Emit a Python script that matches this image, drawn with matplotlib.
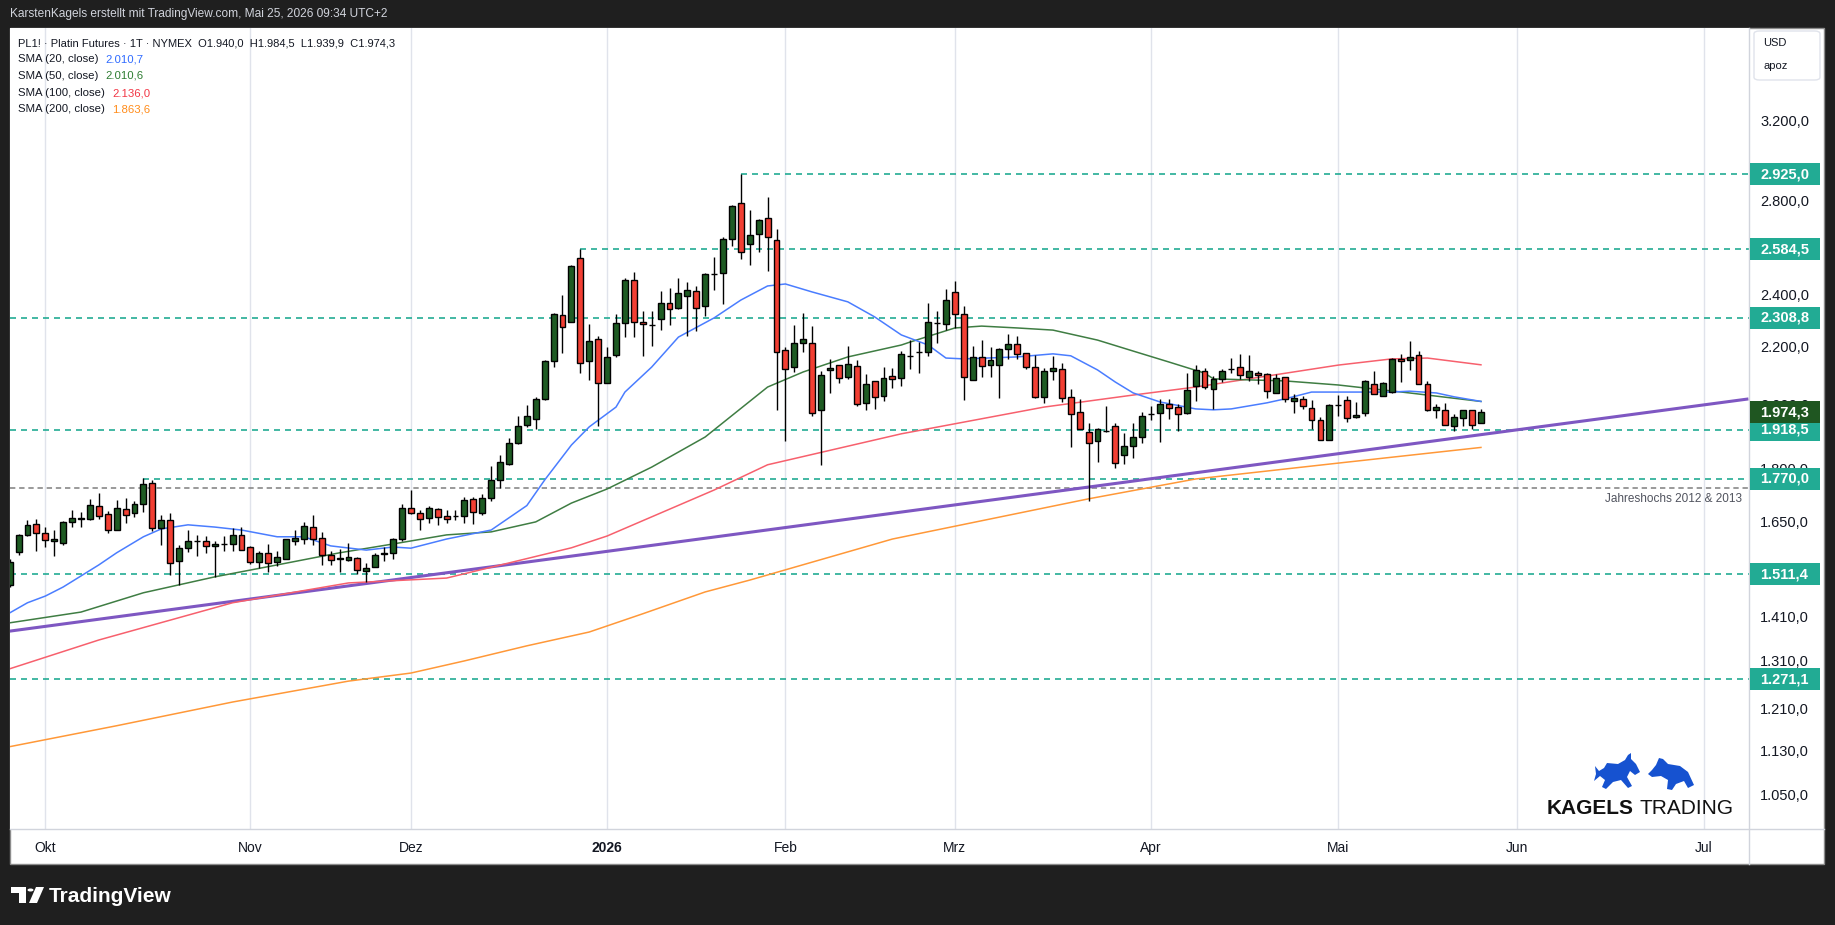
import numpy as np
import matplotlib
matplotlib.use("Agg")
import matplotlib.pyplot as plt
from matplotlib.patches import Rectangle, Polygon, FancyBboxPatch, Circle
from matplotlib.lines import Line2D
from matplotlib.ticker import NullLocator

plt.rcParams['font.family'] = ['Liberation Sans', 'DejaVu Sans']

W, H = 1835, 925

# daily candles (Platin futures, Okt 2025 - Mai 2026)
opens = [1485, 1568, 1612, 1642, 1618, 1597, 1592, 1648, 1656, 1656,
         1692, 1670, 1627, 1684, 1673, 1698, 1758, 1632, 1653, 1544,
         1579, 1598, 1597, 1583, 1588, 1590, 1613, 1582, 1543, 1566,
         1543, 1550, 1598, 1603, 1634, 1604, 1561, 1552, 1548, 1553,
         1520, 1529, 1562, 1566, 1601, 1686, 1673, 1659, 1683, 1664,
         1664, 1663, 1711, 1673, 1713, 1766, 1812, 1877, 1933, 1954,
         2018, 2148, 2318, 2294, 2547, 2148, 2228, 2072, 2172, 2288,
         2456, 2291, 2282, 2303, 2365, 2346, 2392, 2413, 2353, 2482,
         2485, 2628, 2792, 2607, 2650, 2721, 2625, 2189, 2128, 2214,
         2214, 1984, 2118, 2135, 2092, 2132, 2005, 2079, 2029, 2096,
         2090, 2169, 2181, 2181, 2289, 2284, 2408, 2322, 2083, 2165,
         2137, 2137, 2192, 2210, 2177, 2130, 2025, 2114, 2120, 2025,
         1975, 1911, 1884, 1915, 1930, 1840, 1868, 1896, 1969, 1972,
         2002, 1993, 1972, 2061, 2116, 2051, 2086, 2123, 2128, 2093,
         2107, 2103, 2038, 2095, 2012, 2018, 1988, 1949, 1886, 2000,
         2015, 1960, 1971, 2071, 2030, 2041, 2156, 2152, 2170, 2071,
         1982, 1982, 1932, 1958, 1982, 1940.0]
highs = [1550, 1616, 1654, 1657, 1634, 1627, 1651, 1682, 1676, 1712,
         1729, 1677, 1710, 1715, 1707, 1773, 1765, 1668, 1671, 1585,
         1627, 1614, 1611, 1598, 1610, 1632, 1633, 1583, 1570, 1590,
         1570, 1603, 1626, 1647, 1667, 1621, 1570, 1575, 1592, 1554,
         1539, 1565, 1582, 1604, 1698, 1738, 1682, 1691, 1686, 1680,
         1681, 1716, 1716, 1726, 1808, 1841, 1893, 1963, 1998, 2026,
         2152, 2327, 2398, 2519, 2585, 2284, 2239, 2198, 2322, 2464,
         2491, 2336, 2336, 2413, 2424, 2464, 2450, 2434, 2487, 2554,
         2637, 2779, 2927, 2758, 2718, 2818, 2674, 2201, 2281, 2327,
         2279, 2114, 2155, 2135, 2204, 2153, 2104, 2079, 2130, 2126,
         2186, 2224, 2218, 2365, 2335, 2420, 2454, 2355, 2204, 2224,
         2201, 2195, 2248, 2240, 2177, 2170, 2124, 2166, 2144, 2052,
         2018, 1940, 1924, 1994, 1940, 1908, 1940, 1976, 1994, 2018,
         2018, 2002, 2107, 2137, 2124, 2097, 2121, 2159, 2175, 2171,
         2113, 2109, 2104, 2095, 2036, 2029, 2015, 1960, 2003, 2031,
         2028, 2009, 2083, 2115, 2075, 2160, 2173, 2222, 2184, 2080,
         2001, 2004, 1968, 1982, 1982, 1984.5]
lows = [1480, 1561, 1610, 1570, 1581, 1557, 1586, 1634, 1633, 1653,
        1657, 1618, 1627, 1645, 1661, 1674, 1623, 1585, 1509, 1485,
        1568, 1559, 1565, 1505, 1570, 1570, 1574, 1538, 1527, 1516,
        1533, 1550, 1586, 1589, 1586, 1534, 1534, 1517, 1544, 1512,
        1492, 1529, 1544, 1550, 1597, 1669, 1626, 1645, 1639, 1646,
        1653, 1646, 1643, 1667, 1705, 1744, 1809, 1874, 1926, 1922,
        2015, 2128, 2179, 2294, 2109, 2083, 1932, 2072, 2165, 2238,
        2238, 2168, 2204, 2263, 2282, 2342, 2241, 2257, 2316, 2417,
        2361, 2601, 2545, 2517, 2574, 2494, 1984, 1884, 2112, 2181,
        1964, 1809, 2038, 2072, 2087, 1995, 1984, 1987, 2013, 2057,
        2063, 2122, 2109, 2168, 2216, 2263, 2269, 2014, 2083, 2093,
        2093, 2021, 2158, 2158, 2120, 2021, 2004, 2084, 2008, 1864,
        1921, 1707, 1818, 1911, 1802, 1813, 1831, 1877, 1951, 1879,
        1953, 1914, 1969, 2012, 2054, 1986, 2077, 2109, 2088, 2079,
        2068, 2021, 2038, 2008, 1971, 1987, 1921, 1886, 1886, 1964,
        1945, 1957, 1964, 2034, 2030, 2038, 2075, 2118, 2071, 1978,
        1957, 1934, 1915, 1930, 1922, 1939.9]
closes = [1543, 1613, 1640, 1618, 1600, 1601, 1649, 1659, 1659, 1695,
          1664, 1625, 1686, 1667, 1698, 1755, 1632, 1654, 1540, 1579,
          1597, 1598, 1583, 1590, 1589, 1613, 1574, 1542, 1566, 1540,
          1556, 1601, 1604, 1638, 1601, 1560, 1548, 1551, 1554, 1521,
          1526, 1560, 1566, 1601, 1686, 1673, 1656, 1686, 1662, 1656,
          1664, 1708, 1674, 1714, 1766, 1819, 1877, 1932, 1962, 2018,
          2149, 2322, 2273, 2515, 2142, 2221, 2072, 2163, 2288, 2456,
          2291, 2284, 2282, 2365, 2342, 2405, 2417, 2346, 2482, 2482,
          2628, 2775, 2575, 2645, 2713, 2637, 2181, 2122, 2214, 2230,
          1971, 2100, 2124, 2089, 2138, 2001, 2068, 2024, 2089, 2085,
          2174, 2169, 2181, 2292, 2289, 2377, 2322, 2093, 2165, 2131,
          2152, 2192, 2210, 2175, 2130, 2025, 2114, 2125, 2022, 1969,
          1921, 1878, 1921, 1915, 1816, 1869, 1896, 1963, 1969, 2002,
          1989, 1969, 2048, 2118, 2058, 2088, 2116, 2123, 2100, 2116,
          2100, 2047, 2089, 2018, 2023, 1994, 1949, 1886, 1998, 2000,
          1955, 1967, 2078, 2034, 2072, 2156, 2149, 2163, 2071, 1984,
          1991, 1934, 1960, 1982, 1934, 1974.3]

# moving averages (bar number, value)
sma20_bars = [1, 3, 5, 7, 11, 13, 16, 18, 21, 24, 27, 31, 34, 37, 41, 44, 46, 50, 55,
              59, 61, 64, 66, 69, 70, 73, 76, 80, 83, 86, 88, 91, 95, 98, 101, 104,
              106, 108, 114, 118, 120, 123, 125, 127, 130, 134, 136, 138, 142, 144,
              147, 150, 153, 156, 158, 161, 163, 166]
sma20_vals = [1418, 1442, 1458, 1480, 1535, 1566, 1608, 1629, 1640, 1634, 1626, 1608, 1608,
              1584, 1573, 1581, 1578, 1602, 1626, 1693, 1766, 1871, 1928, 1992, 2042, 2128,
              2236, 2308, 2377, 2433, 2441, 2409, 2370, 2312, 2244, 2207, 2160, 2157, 2164,
              2175, 2168, 2118, 2076, 2039, 2009, 1986, 1983, 1986, 2006, 2019, 2042, 2042,
              2042, 2042, 2045, 2039, 2026, 2010.7]
sma50_bars = [1, 9, 16, 24, 31, 38, 44, 50, 55, 60, 64, 68, 73, 79, 86, 90, 95, 101, 102,
              107, 110, 114, 118, 123, 127, 131, 135, 136, 144, 150, 155, 158, 166]
sma50_vals = [1395, 1420, 1466, 1505, 1535, 1566, 1589, 1613, 1621, 1648, 1700, 1740, 1804,
              1896, 2059, 2111, 2164, 2207, 2218, 2270, 2277, 2270, 2262, 2225, 2185, 2146,
              2107, 2087, 2080, 2066, 2049, 2039, 2010.6]
sma100_bars = [1, 11, 26, 39, 50, 64, 68, 80, 86, 101, 117, 127, 134, 150, 156, 160, 166]
sma100_vals = [1293, 1356, 1442, 1490, 1502, 1579, 1610, 1737, 1811, 1906, 1992, 2032, 2059,
               2135, 2157, 2160, 2136.0]
sma200_bars = [1, 13, 26, 39, 46, 52, 59, 66, 72, 79, 84, 100, 122, 134, 150, 166]
sma200_vals = [1137, 1177, 1224, 1267, 1284, 1310, 1343, 1374, 1416, 1468, 1497, 1602, 1712,
               1769, 1816, 1863.6]

trend_bars = [1, 196]
trend_vals = [1376, 2019]

levels = [2925.0, 2584.5, 2308.8, 1918.5, 1770.0, 1511.4, 1271.1]
level_from = [83, 65, 1, 1, 16, 1, 1]
year_high = 1742

month_bars = [5, 28, 46, 68, 88, 107, 129, 150, 170, 191]
month_labels = ["Okt", "Nov", "Dez", "2026", "Feb", "Mrz", "Apr", "Mai", "Jun", "Jul"]
price_ticks = [3200, 2800, 2400, 2200, 2000, 1800, 1650, 1520, 1410, 1310, 1210, 1130, 1050]


def de(v):
    return f"{v:,.1f}".replace(",", "X").replace(".", ",").replace("X", ".")


def fx(px):
    return px / W


def fy(py):
    return 1 - py / H


fig = plt.figure(figsize=(W / 100, H / 100), dpi=100, facecolor="#1f1f1f")

# white chart panel
fig.add_artist(Rectangle((fx(10), fy(864)), fx(1814), 836 / H, transform=fig.transFigure,
                         facecolor="white", edgecolor="#8c8c8c", lw=1, zorder=0))

ax = fig.add_axes([fx(10), fy(829), fx(1739), 801 / H])
ax.set_facecolor("white")
ax.set_yscale("log")
XL = (1.04, 196.06)
ax.set_xlim(*XL)
ax.set_ylim(992.5, 3725)
for s in ax.spines.values():
    s.set_visible(False)

bars = np.arange(1, len(opens) + 1)
o = np.array(opens, float)
c = np.array(closes, float)
hi = np.array(highs, float)
lo = np.array(lows, float)
up = c >= o

# grid (months only), labels drawn on a common baseline
ax.set_xticks(month_bars)
ax.set_xticklabels([])
ax.grid(axis="x", color="#e0e3eb", lw=1, zorder=0)
ax.tick_params(axis="x", length=0)
for b, lab in zip(month_bars, month_labels):
    xpix = ax.transData.transform((b, 2000))[0]
    fig.text(xpix / W, fy(852), lab, fontsize=10, color="#131722", ha="center", va="baseline",
             fontweight="bold" if lab == "2026" else "normal")

ax.yaxis.tick_right()
ax.set_yticks(price_ticks)
ax.set_yticklabels([de(v) for v in price_ticks])
ax.yaxis.set_minor_locator(NullLocator())
ax.tick_params(axis="y", length=0, pad=8, labelsize=10.5, labelcolor="#131722")

# horizontal levels
for lv, start in zip(levels, level_from):
    ax.hlines(lv, max(start, XL[0]), XL[1], colors="#22ab94", lw=1.2,
              linestyles=(0, (3.6, 3.0)), zorder=2)
ax.hlines(year_high, XL[0], XL[1], colors="#7f7f7f", lw=1.1, linestyles=(0, (3.5, 2.5)), zorder=2)

# trend line and SMAs
ax.plot(trend_bars, trend_vals, color="#7e57c2", lw=2.2, zorder=2, solid_capstyle="butt")
ax.plot(sma200_bars, sma200_vals, color="#ff9838", lw=1.1, zorder=2)
ax.plot(sma100_bars, sma100_vals, color="#f7606d", lw=1.1, zorder=2)
ax.plot(sma50_bars, sma50_vals, color="#3f7d43", lw=1.1, zorder=2)
ax.plot(sma20_bars, sma20_vals, color="#4a7dff", lw=1.1, zorder=2)

# candles
ax.vlines(bars, lo, hi, color="black", lw=1.0, zorder=3)
ax.bar(bars, np.abs(c - o), bottom=np.minimum(o, c), width=0.66,
       color=np.where(up, "#1e5b23", "#f23f33"), edgecolor="black", linewidth=1.0, zorder=4)

# separators of the axis strips
fig.add_artist(Line2D([fx(1749), fx(1749)], [fy(864), fy(28)], transform=fig.transFigure,
                      color="#d1d4dc", lw=1, zorder=6))
fig.add_artist(Line2D([fx(10), fx(1824)], [fy(829), fy(829)], transform=fig.transFigure,
                      color="#d1d4dc", lw=1, zorder=6))


# price labels on the axis
def axis_label(price, text, face):
    ypix = ax.transData.transform((1, price))[1]
    fig.add_artist(Rectangle((fx(1750), (ypix - 11) / H), fx(70), 22 / H, transform=fig.transFigure,
                             facecolor=face, edgecolor="none", zorder=7))
    fig.text(fx(1760), ypix / H, text, color="white", fontsize=10.5, fontweight="bold",
             ha="left", va="center", zorder=8)


for lv in levels:
    axis_label(lv, de(lv), "#22ab94")
axis_label(closes[-1], de(closes[-1]), "#1f5621")

# currency box
fig.add_artist(FancyBboxPatch((fx(1754), fy(80)), fx(66), 49 / H, boxstyle="round,pad=0,rounding_size=0.003",
                              transform=fig.transFigure, facecolor="white", edgecolor="#e0e3eb", lw=1, zorder=7))
fig.text(fx(1763), fy(43), "USD", fontsize=8, color="#131722", va="center", zorder=8)
fig.text(fx(1763), fy(66), "apoz", fontsize=8, color="#131722", va="center", zorder=8)

fig.text(fx(1742), fy(499), "Jahreshochs 2012 & 2013", fontsize=8.5, color="#50535e",
         ha="right", va="center")

# header + legend
fig.text(fx(10), fy(14), "KarstenKagels erstellt mit TradingView.com, Mai 25, 2026 09:34 UTC+2",
         fontsize=8.6, color="#d1d4dc", va="center")
fig.text(fx(18), fy(43), "PL1! \u00b7 Platin Futures \u00b7 1T \u00b7 NYMEX  O1.940,0  H1.984,5  L1.939,9  C1.974,3",
         fontsize=8.0, color="#131722", va="center")
renderer = fig.canvas.get_renderer()
legend_rows = [("SMA (20, close)", sma20_vals[-1], "#2f6bff", 59),
               ("SMA (50, close)", sma50_vals[-1], "#2e7d32", 76),
               ("SMA (100, close)", sma100_vals[-1], "#f23645", 93),
               ("SMA (200, close)", sma200_vals[-1], "#ff8c1a", 109)]
for name, val, col, ypos in legend_rows:
    t = fig.text(fx(18), fy(ypos), name, fontsize=8.2, color="#131722", va="center")
    bb = t.get_window_extent(renderer)
    fig.text((bb.x1 + 7) / W, fy(ypos), de(val), fontsize=8.2, color=col, va="center")

# KAGELS TRADING logo
t = fig.text(fx(1547), fy(808), "KAGELS", fontsize=15, fontweight="bold", color="#111111", va="center")
bb = t.get_window_extent(renderer)
fig.text((bb.x1 + 5) / W, fy(808), "TRADING", fontsize=15, color="#111111", va="center")
bull = [(1595, 766), (1599, 771), (1604, 768), (1607, 763), (1618, 764), (1625, 760), (1628, 755),
        (1631, 753), (1631, 759), (1636, 764), (1640, 772), (1635, 775), (1630, 771), (1627, 777),
        (1632, 786), (1628, 788), (1621, 780), (1613, 782), (1606, 789), (1602, 787), (1605, 780),
        (1600, 776), (1594, 781), (1596, 774)]
bear = [(1648, 774), (1652, 770), (1656, 765), (1659, 758), (1663, 759), (1668, 764), (1680, 766),
        (1688, 772), (1694, 785), (1688, 788), (1684, 781), (1676, 784), (1672, 790), (1667, 789),
        (1668, 780), (1661, 776), (1652, 777)]
for shape in (bull, bear):
    fig.add_artist(Polygon([(fx(x), fy(y)) for x, y in shape], closed=True, transform=fig.transFigure,
                           facecolor="#1652d0", edgecolor="none", zorder=5))

# TradingView footer logo
fig.add_artist(Polygon([(fx(x), fy(y)) for x, y in [(11, 887), (26, 887), (26, 903), (19, 903), (19, 893), (11, 893)]],
                       closed=True, transform=fig.transFigure, facecolor="white", edgecolor="none"))
fig.add_artist(Circle((fx(30.5), fy(890)), 3 / W, transform=fig.transFigure, facecolor="white", edgecolor="none"))
fig.add_artist(Polygon([(fx(x), fy(y)) for x, y in [(36, 887), (44, 887), (37, 903), (29, 903)]],
                       closed=True, transform=fig.transFigure, facecolor="white", edgecolor="none"))
fig.text(fx(49), fy(896), "TradingView", fontsize=15, fontweight="bold", color="white", va="center")

fig.savefig("out.png", dpi=100, facecolor=fig.get_facecolor())
